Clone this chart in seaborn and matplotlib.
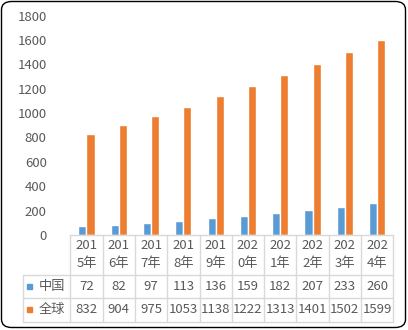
import matplotlib
matplotlib.use("Agg")
import matplotlib.pyplot as plt
from matplotlib.patches import FancyBboxPatch, Rectangle
import seaborn as sns
import pandas as pd

years = ["2015年", "2016年", "2017年", "2018年", "2019年",
         "2020年", "2021年", "2022年", "2023年", "2024年"]
series_names = ["中国", "全球"]
china = [72, 82, 97, 113, 136, 159, 182, 207, 233, 260]
world = [832, 904, 975, 1053, 1138, 1222, 1313, 1401, 1502, 1599]
yticks = [0, 200, 400, 600, 800, 1000, 1200, 1400, 1600, 1800]

colors = ["#5B9BD5", "#ED7D31"]
txt = "#595959"
grid = "#D9D9D9"

sns.set_style("white")
plt.rcParams["font.family"] = ["Noto Sans CJK SC", "DejaVu Sans"]
FS = 9.5

df = pd.DataFrame({
    "year": years * 2,
    "value": china + world,
    "series": [series_names[0]] * len(years) + [series_names[1]] * len(years),
})

W, H = 408, 330
fig = plt.figure(figsize=(W / 100, H / 100), dpi=100)

def fx(px):
    return px / W

def fy(py):
    return (H - py) / H

x0, x1 = 70.3, 393.3
y_top, y_zero = 15.5, 235.0
ax = fig.add_axes([fx(x0), fy(y_zero), fx(x1) - fx(x0), fy(y_top) - fy(y_zero)])
sns.barplot(data=df, x="year", y="value", hue="series", palette=colors,
            width=0.5, gap=0, ax=ax, legend=False, saturation=1)
ax.set_xlim(-0.5, len(years) - 0.5)
ax.set_ylim(0, 1800)
ax.set_yticks(yticks)
ax.set_yticklabels([str(v) for v in yticks], fontsize=FS, color=txt)
ax.tick_params(axis="y", length=0, pad=17)
ax.set_xticks([])
ax.set_xlabel("")
ax.set_ylabel("")
for s in ax.spines.values():
    s.set_visible(False)

# data table
t_bot = 321.7
tax = fig.add_axes([fx(x0), fy(t_bot), fx(x1) - fx(x0), fy(y_zero) - fy(t_bot)])
tax.set_xlim(-0.5, len(years) - 0.5)
tax.set_ylim(t_bot, y_zero)
tax.axis("off")
colw = (x1 - x0) / len(years)
left_x = -0.5 - (x0 - 22.7) / colw
r1, r2 = 275.0, 298.0
lw = 1.0
# horizontal lines
tax.plot([-0.5, 9.5], [y_zero, y_zero], color=grid, lw=lw, clip_on=False)
for yy in [r1, r2, t_bot]:
    tax.plot([left_x, 9.5], [yy, yy], color=grid, lw=lw, clip_on=False)
# vertical lines
for i in range(len(years) + 1):
    tax.plot([i - 0.5, i - 0.5], [y_zero, t_bot], color=grid, lw=lw, clip_on=False)
tax.plot([left_x, left_x], [r1, t_bot], color=grid, lw=lw, clip_on=False)

for i, y in enumerate(years):
    tax.text(i, 245.5, y[:3], ha="center", va="center", fontsize=FS, color=txt, clip_on=False)
    tax.text(i, 263.5, y[3:], ha="center", va="center", fontsize=FS, color=txt, clip_on=False)
    tax.text(i, 286.5, str(china[i]), ha="center", va="center", fontsize=FS, color=txt, clip_on=False)
    tax.text(i, 309.5, str(world[i]), ha="center", va="center", fontsize=FS, color=txt, clip_on=False)

for k, (name, yc) in enumerate(zip(series_names, [286.5, 309.5])):
    sq_l = -0.5 - (x0 - 27.2) / colw
    tax.add_patch(Rectangle((sq_l, yc - 2.5), 5 / colw, 5, color=colors[k], clip_on=False))
    tax.text(-0.5 - (x0 - 39) / colw, yc, name, ha="left", va="center",
             fontsize=FS, color=txt, clip_on=False)

# rounded outer border
border = FancyBboxPatch((fx(1.5), fy(327.5)), fx(405.5) - fx(1.5), fy(1.5) - fy(327.5),
                        boxstyle="round,pad=0,rounding_size=0.025",
                        transform=fig.transFigure, fill=False, ec="#000000", lw=1.0)
fig.patches.append(border)

fig.savefig("out.png", dpi=100)
